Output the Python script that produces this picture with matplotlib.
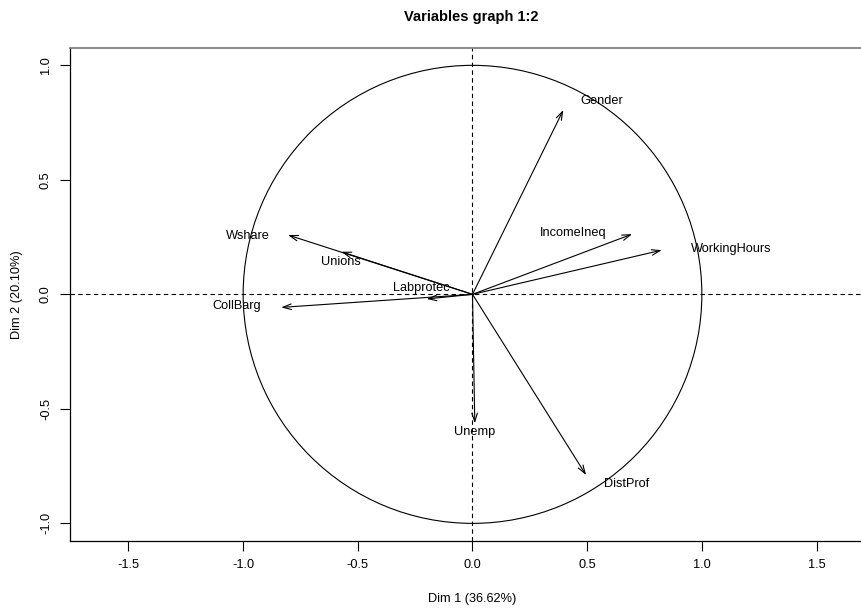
import numpy as np
import matplotlib.pyplot as plt
from matplotlib.patches import Circle

plt.rcParams['font.family'] = ['Liberation Sans', 'DejaVu Sans']

# variable coordinates on dims 1 and 2
variables = ['Gender', 'IncomeIneq', 'WorkingHours', 'Unemp', 'DistProf',
             'Wshare', 'CollBarg', 'Unions', 'Labprotec']
dim1 = [0.396, 0.696, 0.825, 0.010, 0.495, -0.804, -0.834, -0.572, -0.200]
dim2 = [0.805, 0.263, 0.193, -0.563, -0.789, 0.259, -0.057, 0.186, -0.020]

# where each name is written (data units)
label_x = [0.564, 0.437, 1.128, 0.011, 0.674, -0.978, -1.029, -0.575, -0.223]
label_y = [0.845, 0.266, 0.198, -0.603, -0.828, 0.256, -0.051, 0.142, 0.029]

x_ticks = [-1.5, -1.0, -0.5, 0.0, 0.5, 1.0, 1.5]
y_ticks = [-1.0, -0.5, 0.0, 0.5, 1.0]

fig = plt.figure(figsize=(8.61, 6.08), dpi=100)
# axes runs a bit past the right edge of the figure
ax = fig.add_axes([70 / 861, (608 - 541) / 608, 805 / 861, 493.3 / 608])
ax.set_xlim(-1.755, 1.755)
ax.set_ylim(-1.077, 1.077)

ax.axhline(0, color='black', linestyle=(0, (4, 3)), linewidth=0.8)
ax.axvline(0, color='black', linestyle=(0, (4, 3)), linewidth=0.8)
ax.add_patch(Circle((0, 0), 1.0, fill=False, edgecolor='black', linewidth=0.8))

for name, x, y, lx, ly in zip(variables, dim1, dim2, label_x, label_y):
    ax.annotate('', xy=(x, y), xytext=(0, 0),
                arrowprops=dict(arrowstyle='->,head_length=0.6,head_width=0.2',
                                color='black', linewidth=0.8,
                                shrinkA=0, shrinkB=0))
    ax.text(lx, ly, name, ha='center', va='center', fontsize=9.2)

ax.set_xticks(x_ticks)
ax.set_xticklabels([f'{t:.1f}' for t in x_ticks])
ax.set_yticks(y_ticks)
ax.set_yticklabels([f'{t:.1f}' for t in y_ticks], rotation=90, va='center')
ax.tick_params(axis='both', direction='out', length=7, width=0.8,
               labelsize=9.2, pad=6)

for side in ['left', 'bottom', 'right']:
    ax.spines[side].set_linewidth(0.9)
ax.spines['top'].set_color('#777777')
ax.spines['top'].set_linewidth(1.2)

ax.set_xlabel('Dim 1 (36.62%)', fontsize=9.2, labelpad=16)
ax.set_ylabel('Dim 2 (20.10%)', fontsize=9.2, labelpad=12)
fig.text(471 / 861, 1 - 17 / 608, 'Variables graph 1:2', ha='center',
         va='center', fontsize=10.5, fontweight='bold')

fig.savefig('out.png', dpi=100)
